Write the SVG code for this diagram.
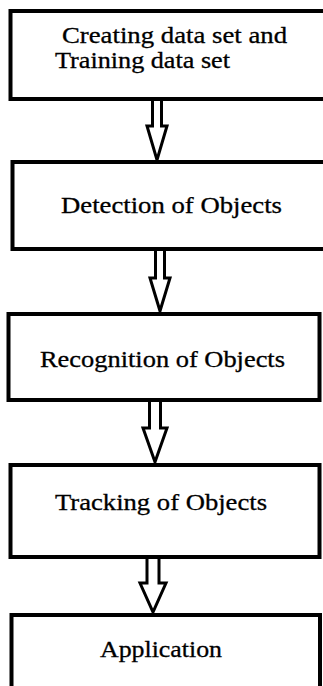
<svg xmlns="http://www.w3.org/2000/svg" width="323" height="686" viewBox="0 0 323 686">
<style>
.box{fill:#fff;stroke:#000;stroke-width:4}
.arr{fill:#fff;stroke:#000;stroke-width:3;stroke-linejoin:miter}
.t{font-family:"Liberation Serif","Times New Roman",serif;font-size:23px;fill:#000;stroke:#000;stroke-width:0.3}
</style>
<rect width="323" height="686" fill="#fff"/>
<g id="connectors">
<path class="arr" d="M152.5,99 V126 H147 L157,160 L167,126 H161.5 V99"/>
<path class="arr" d="M155.5,249 V278 H150 L160,311 L170,278 H164.5 V249"/>
<path class="arr" d="M149.5,400 V428 H143 L155,462 L167,428 H160.5 V400"/>
<path class="arr" d="M147,557 V583 H140 L153,612 L166,583 H159 V557"/>
</g>
<g id="n1">
<rect class="box" x="10.5" y="11" width="330" height="88"/>
<text class="t" x="62" y="43" textLength="225" lengthAdjust="spacingAndGlyphs">Creating data set and</text>
<text class="t" x="55" y="68" textLength="175" lengthAdjust="spacingAndGlyphs">Training data set</text>
</g>
<g id="n2">
<rect class="box" x="12.5" y="162" width="330" height="87"/>
<text class="t" x="61" y="213" textLength="221" lengthAdjust="spacingAndGlyphs">Detection of Objects</text>
</g>
<g id="n3">
<rect class="box" x="8.5" y="314" width="311" height="86"/>
<text class="t" x="40" y="367" textLength="245" lengthAdjust="spacingAndGlyphs">Recognition of Objects</text>
</g>
<g id="n4">
<rect class="box" x="10.5" y="465" width="309" height="92"/>
<text class="t" x="55" y="510" textLength="212" lengthAdjust="spacingAndGlyphs">Tracking of Objects</text>
</g>
<g id="n5">
<rect class="box" x="11.5" y="615" width="308.5" height="100"/>
<text class="t" x="100" y="657" textLength="122" lengthAdjust="spacingAndGlyphs">Application</text>
</g>
</svg>
